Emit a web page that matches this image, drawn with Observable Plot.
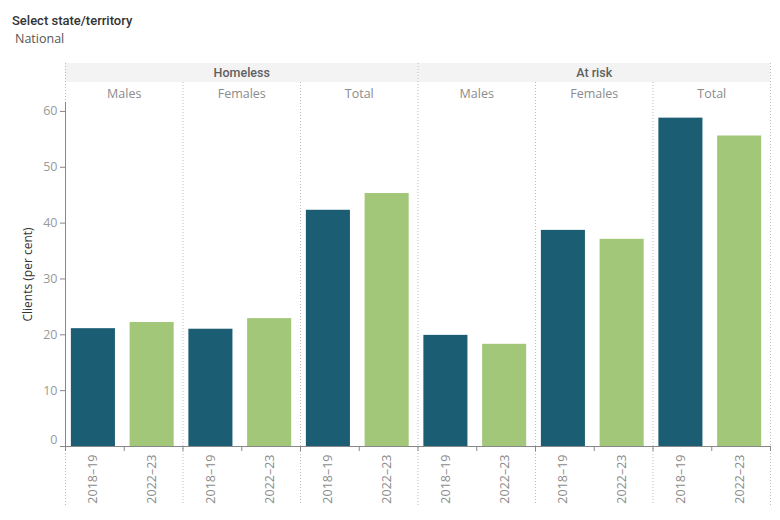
<!DOCTYPE html>
<html>
<head>
<meta charset="utf-8">
<script src="https://cdn.jsdelivr.net/npm/d3@7"></script>
<script src="https://cdn.jsdelivr.net/npm/@observablehq/plot@0.6"></script>
<style>
  html, body { margin: 0; padding: 0; background: #fff; overflow: hidden; }
  body { width: 780px; height: 520px; position: relative; font-family: "Open Sans", sans-serif; }
  #title { position: absolute; left: 12px; top: 12px; font-family: Roboto, "Open Sans", sans-serif; font-size: 13px; font-weight: 500; color: #333; line-height: 18px; white-space: nowrap; }
  #filter { position: absolute; left: 15px; top: 30px; font-size: 12.5px; color: #555; line-height: 18px; white-space: nowrap; }
  #chart { position: absolute; left: 0; top: 50px; }
</style>
</head>
<body>
<div id="title">Select state/territory</div>
<div id="filter">National</div>
<div id="chart"></div>
<script>
// Categories
const groups = ["Homeless", "At risk"];
const sexes = ["Males", "Females", "Total"];
const periods = ["2018–19", "2022–23"];

// Clients (per cent), in the order Males, Females, Total
const homeless_2018_19 = [21.1, 21.0, 42.3];
const homeless_2022_23 = [22.2, 22.9, 45.3];
const atRisk_2018_19 = [19.9, 38.7, 58.8];
const atRisk_2022_23 = [18.3, 37.1, 55.6];

const yTicks = [0, 10, 20, 30, 40, 50, 60];
const periodColors = ["#1b5d72", "#a2c779"];

// Each bar occupies one unit slot on a linear x scale: group → sex → period
const series = [
  [homeless_2018_19, homeless_2022_23],
  [atRisk_2018_19, atRisk_2022_23]
];
const bars = [];
groups.forEach((group, gi) => {
  sexes.forEach((sex, si) => {
    periods.forEach((period, pi) => {
      bars.push({group, sex, period, slot: gi * 6 + si * 2 + pi, value: series[gi][pi][si]});
    });
  });
});
const columns = [];
groups.forEach((group, gi) => sexes.forEach((sex, si) => columns.push({group, sex, start: gi * 6 + si * 2})));
const groupSpans = groups.map((group, gi) => ({group, start: gi * 6, end: gi * 6 + 6}));

const nSlots = bars.length;
const groupEdges = d3.range(0, nSlots + 1, 6);
const sexEdges = d3.range(2, nSlots, 2).filter(v => v % 6 !== 0);
const slotEdges = d3.range(0, nSlots + 1);
const labelAt = new Map(bars.map(d => [d.slot + 0.475, d.period]));

// frame geometry (pixels)
const W = 780, H = 462, mT = 52, mB = 66, mL = 65, mR = 10;
const bandTop = 13, bandBottom = 32, sepBottom = 455, subHeaderY = 43;
const frameBottom = H - mB;

const grid = {stroke: "#bcbcbc", strokeDasharray: "1,2", strokeWidth: 1};

const chart = Plot.plot({
  width: W,
  height: H,
  marginTop: mT,
  marginBottom: mB,
  marginLeft: mL,
  marginRight: mR,
  style: {fontFamily: "Open Sans, sans-serif", background: "#fff", overflow: "visible"},
  x: {domain: [0, nSlots], axis: null},
  y: {domain: [0, 61.6], axis: null},
  color: {domain: periods, range: periodColors},
  marks: [
    // header band behind the group names
    Plot.rect(groupSpans, {x1: "start", x2: "end", fill: "#f3f3f3",
      insetTop: bandTop - mT, insetBottom: frameBottom - bandBottom}),
    // dotted pane dividers
    Plot.ruleX(groupEdges, {...grid, insetTop: bandTop - mT, insetBottom: frameBottom - sepBottom}),
    Plot.ruleX(sexEdges, {...grid, insetTop: bandBottom - mT, insetBottom: frameBottom - sepBottom}),
    // header texts
    Plot.text(groupSpans, {x: d => (d.start + d.end) / 2, text: "group", frameAnchor: "top",
      lineAnchor: "middle", textAnchor: "middle", fontFamily: "Roboto, Open Sans, sans-serif",
      dy: (bandTop + bandBottom) / 2 - mT, fill: "#5f5f5f", fontSize: 12.5, fontWeight: 500}),
    Plot.text(columns, {x: d => d.start + 1, text: "sex", frameAnchor: "top",
      lineAnchor: "middle", textAnchor: "middle",
      dy: subHeaderY - mT, fill: "#8c8c8c", fontSize: 12.5}),
    // bars
    Plot.rectY(bars, {x1: d => d.slot + 0.1, x2: d => d.slot + 0.85, y: "value", fill: "period"}),
    // axes
    Plot.ruleX([0], {stroke: "#888"}),
    Plot.ruleY([0], {stroke: "#888"}),
    Plot.axisX(slotEdges, {tickSize: 5, tickFormat: () => "", stroke: "#888"}),
    Plot.axisX([...labelAt.keys()], {tickSize: 0, tickPadding: 8, tickRotate: -90,
      tickFormat: v => labelAt.get(v), fill: "#8c8c8c", fontSize: 12.5, label: null}),
    Plot.axisY(yTicks, {tickSize: 5, tickPadding: 3, tickFormat: v => v === 0 ? "" : v,
      stroke: "#888", fill: "#999", fontSize: 12.5, label: null}),
    Plot.axisY([0], {tickSize: 0, tickPadding: 8, dy: -7, fill: "#999", fontSize: 12.5, label: null}),
    Plot.text(["Clients (per cent)"], {frameAnchor: "left", textAnchor: "middle", lineAnchor: "middle",
      rotate: -90, dx: -37, fill: "#333", fontSize: 12})
  ]
});
document.getElementById("chart").append(chart);
</script>
</body>
</html>
